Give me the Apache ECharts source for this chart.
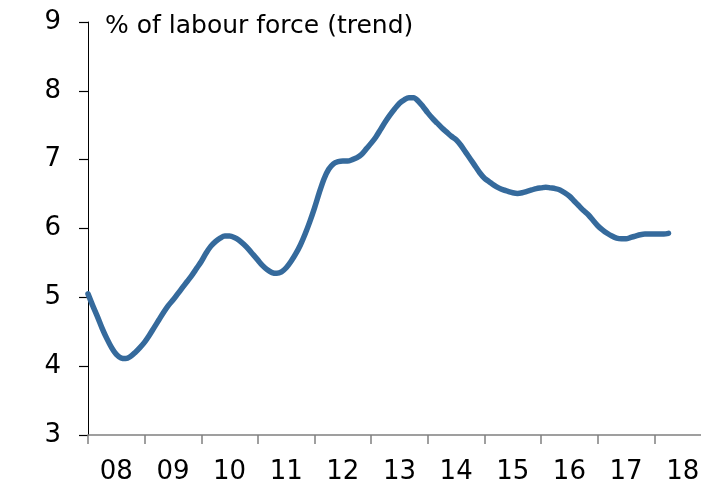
<!DOCTYPE html>
<html>
<head>
<meta charset="utf-8">
<title>Unemployment rate</title>
<script src="https://cdn.jsdelivr.net/npm/echarts@6/dist/echarts.min.js"></script>
<style>
  html, body { margin: 0; padding: 0; background: #fff; }
  #main { width: 701px; height: 490px; }
</style>
</head>
<body>
<div id="main"></div>
<script>
// years shown on the x axis (one category per year)
var years = ['08', '09', '10', '11', '12', '13', '14', '15', '16', '17', '18'];
// y axis ticks
var yTicks = [3, 4, 5, 6, 7, 8, 9];
// trend unemployment rate, monthly from Jan 2008
var rate = [
  5.05, 4.88, 4.72, 4.55, 4.40, 4.27, 4.17, 4.12, 4.11, 4.14, 4.20, 4.27,
  4.35, 4.45, 4.56, 4.67, 4.78, 4.88, 4.96, 5.05, 5.14, 5.23, 5.32, 5.42,
  5.52, 5.64, 5.74, 5.81, 5.86, 5.89, 5.89, 5.87, 5.83, 5.77, 5.70, 5.62,
  5.54, 5.46, 5.40, 5.36, 5.35, 5.37, 5.43, 5.52, 5.63, 5.76, 5.92, 6.10,
  6.30, 6.52, 6.72, 6.86, 6.94, 6.97, 6.98, 6.98, 7.00, 7.03, 7.08, 7.16,
  7.24, 7.33, 7.44, 7.55, 7.65, 7.74, 7.82, 7.87, 7.90, 7.90, 7.85, 7.77,
  7.68, 7.60, 7.53, 7.46, 7.40, 7.34, 7.29, 7.21, 7.11, 7.01, 6.91, 6.81,
  6.73, 6.68, 6.63, 6.59, 6.56, 6.54, 6.52, 6.51, 6.52, 6.54, 6.56, 6.58,
  6.59, 6.60, 6.59, 6.58, 6.56, 6.52, 6.47, 6.40, 6.33, 6.26, 6.20, 6.12,
  6.04, 5.98, 5.93, 5.89, 5.86, 5.85, 5.85, 5.87, 5.89, 5.91, 5.92, 5.92,
  5.92, 5.92, 5.92, 5.93
];

var chart = echarts.init(document.getElementById('main'));
var font = 'DejaVu Sans';

var option = {
  animation: false,
  textStyle: { fontFamily: font },
  title: {
    text: '% of labour force (trend)',
    left: 100,
    top: 9,
    textStyle: { fontFamily: font, fontSize: 25, fontWeight: 'normal', color: '#000' }
  },
  grid: { left: 88, right: -10, top: 22, bottom: 55, outerBoundsMode: 'none' },
  xAxis: [
    {
      type: 'category',
      data: years,
      boundaryGap: true,
      axisLine: { lineStyle: { color: '#808080', width: 1.5 } },
      axisTick: { show: true, alignWithLabel: false, interval: 0, length: 9, lineStyle: { color: '#808080', width: 1.5 } },
      axisLabel: { color: '#000', fontSize: 26, margin: 24, fontFamily: font, interval: 0 }
    },
    {
      type: 'value',
      min: 0,
      max: years.length * 12,
      show: false
    }
  ],
  yAxis: {
    type: 'value',
    min: yTicks[0],
    max: yTicks[yTicks.length - 1],
    interval: 1,
    splitLine: { show: false },
    axisLine: { show: true, lineStyle: { color: '#000', width: 1 } },
    axisTick: { show: true, inside: false, length: 9, lineStyle: { color: '#000', width: 1.2 } },
    axisLabel: { color: '#000', fontSize: 26, margin: 27, fontFamily: font }
  },
  series: [{
    type: 'line',
    xAxisIndex: 1,
    data: rate.map(function (v, i) { return [i, v]; }),
    smooth: 0.3,
    showSymbol: false,
    lineStyle: { color: '#356a9c', width: 5.5, cap: 'round' }
  }]
};
chart.setOption(option);
</script>
</body>
</html>
